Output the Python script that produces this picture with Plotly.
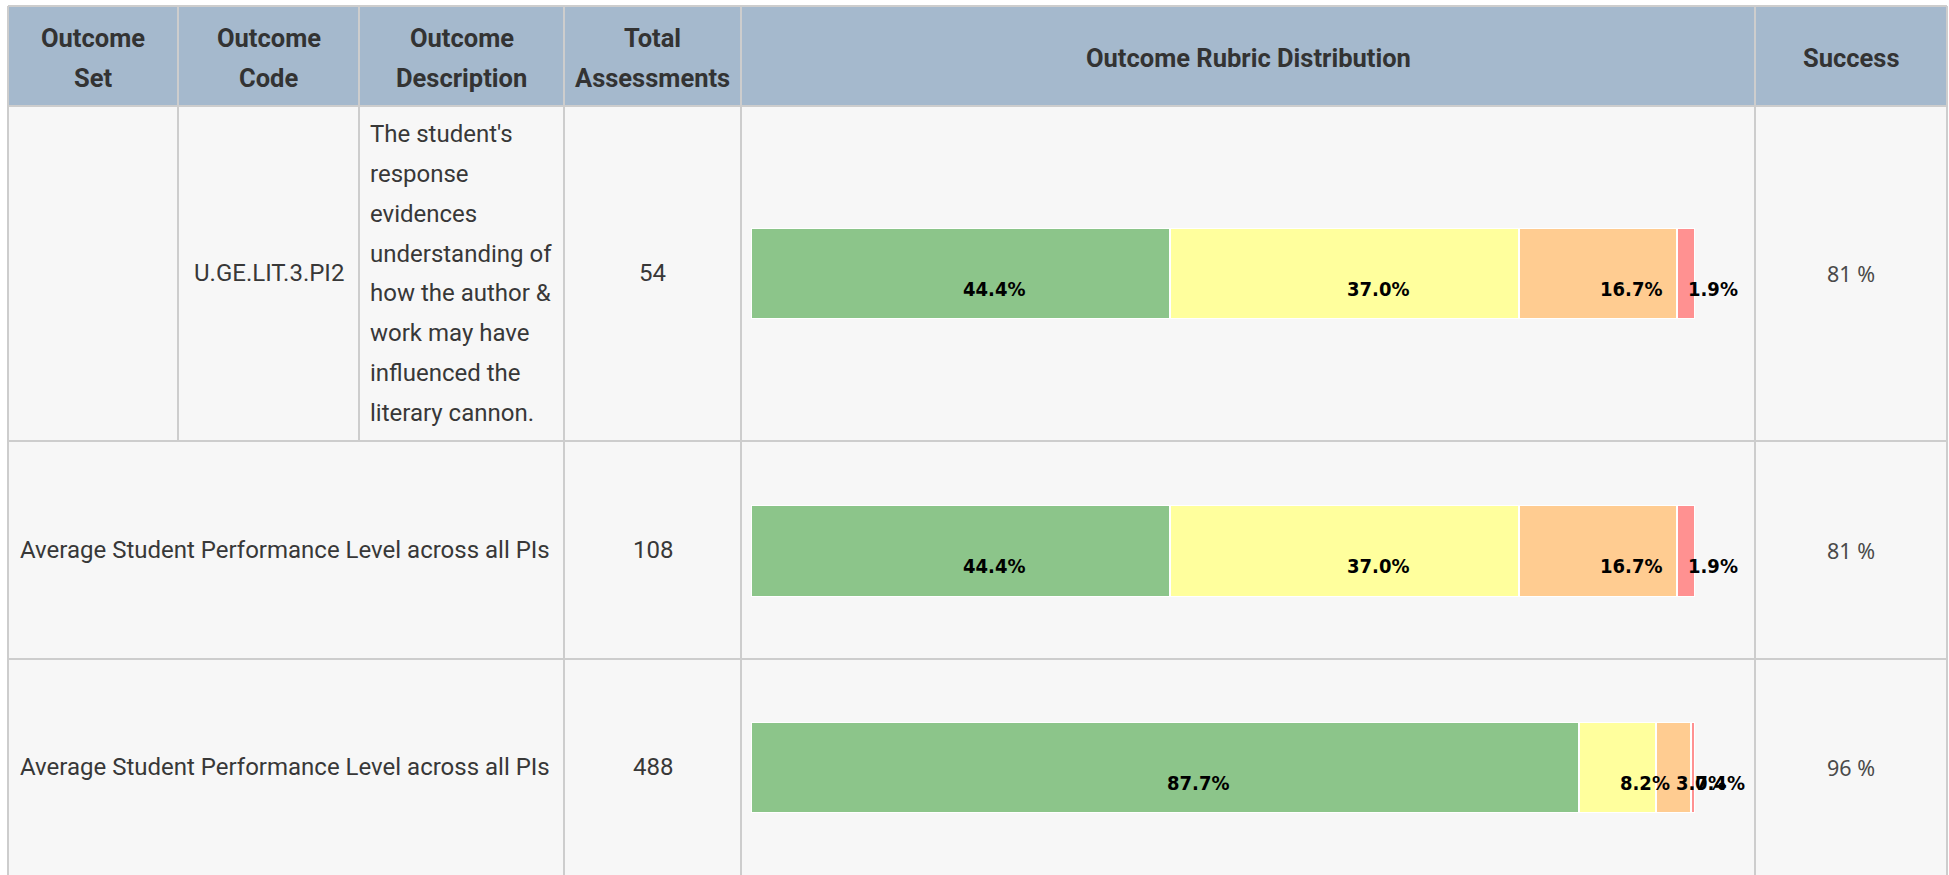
import plotly.graph_objects as go

# ---------------- data ----------------
header_lines = [["Outcome", "Set"], ["Outcome", "Code"], ["Outcome", "Description"],
                ["Total", "Assessments"], ["Outcome Rubric Distribution"], ["Success"]]
outcome_codes = ["U.GE.LIT.3.PI2"]
description_lines = ["The student's", "response", "evidences", "understanding of",
                     "how the author &", "work may have", "influenced the", "literary cannon."]
row_labels = ["", "Average Student Performance Level across all PIs",
              "Average Student Performance Level across all PIs"]
total_assessments = [54, 108, 488]
level_names = ["Level 4", "Level 3", "Level 2", "Level 1"]
level_colors = ["#8CC58A", "#FFFF9D", "#FFCC91", "#FF9191"]
level_4 = [44.4, 44.4, 87.7]
level_3 = [37.0, 37.0, 8.2]
level_2 = [16.7, 16.7, 3.7]
level_1 = [1.9, 1.9, 0.4]
success = [81, 81, 96]

# ---------------- layout constants (pixels) ----------------
W, H = 1949, 875
COL = [8, 178, 359, 564, 741, 1755, 1947]
ROW = [6, 106, 441, 659, 880]
BAR_X = (751, 1695)
BAR_Y = [(228, 319), (505, 597), (722, 813)]
GRID = "#CDCDCD"
HEAD_BG = "#A5B9CD"
BODY_BG = "#F7F7F7"
TXT = "#383838"


def px(x):
    return x / W


def py(y):
    return 1 - y / H


fig = go.Figure()
levels = [level_4, level_3, level_2, level_1]
label_font = dict(family="DejaVu Sans Condensed, DejaVu Sans", size=20, color="black",
                  weight="bold")

for i in range(3):
    ax = "" if i == 0 else str(i + 1)
    for name, vals, col in zip(level_names, levels, level_colors):
        fig.add_trace(go.Bar(
            x=[vals[i]], y=[0], orientation="h", name=name, width=1,
            marker=dict(color=col, line=dict(color="white", width=2)),
            xaxis="x" + ax, yaxis="y" + ax, showlegend=False, hoverinfo="skip"))
    fig.update_layout(**{
        "xaxis" + ax: dict(domain=[px(BAR_X[0]), px(BAR_X[1])], range=[0, 100], visible=False,
                           fixedrange=True, anchor="y" + ax),
        "yaxis" + ax: dict(domain=[py(BAR_Y[i][1]), py(BAR_Y[i][0])], range=[-0.5, 0.5],
                           visible=False, fixedrange=True, anchor="x" + ax),
    })
    # labels: left-aligned at segment centre, a bit below the middle
    start = 0
    for vals in levels:
        v = vals[i]
        fig.add_annotation(x=start + v / 2, y=0, xref="x" + ax, yref="y" + ax,
                           text=f"{v:.1f}%", showarrow=False, xanchor="left", yanchor="middle",
                           yshift=-15, font=label_font)
        start += v

shapes = []
# backgrounds
shapes.append(dict(type="rect", xref="paper", yref="paper", x0=px(COL[0]), x1=px(COL[-1]),
                   y0=py(ROW[1]), y1=py(ROW[0]), fillcolor=HEAD_BG, line_width=0, layer="below"))
shapes.append(dict(type="rect", xref="paper", yref="paper", x0=px(COL[0]), x1=px(COL[-1]),
                   y0=py(ROW[-1]), y1=py(ROW[1]), fillcolor=BODY_BG, line_width=0, layer="below"))


def hline(y, x0, x1):
    shapes.append(dict(type="line", xref="paper", yref="paper", x0=px(x0), x1=px(x1),
                       y0=py(y), y1=py(y), line=dict(color=GRID, width=2), layer="below"))


def vline(x, y0, y1):
    shapes.append(dict(type="line", xref="paper", yref="paper", x0=px(x), x1=px(x),
                       y0=py(y0), y1=py(y1), line=dict(color=GRID, width=2), layer="below"))


for y in ROW[:-1]:
    hline(y, COL[0], COL[-1])
for x in [COL[0], COL[3], COL[4], COL[5], COL[6]]:
    vline(x, ROW[0], ROW[-1])
for x in [COL[1], COL[2]]:
    vline(x, ROW[0], ROW[2])
fig.update_layout(shapes=shapes)


def text(x, y, t, font, xanchor="center"):
    fig.add_annotation(x=px(x), y=py(y), xref="paper", yref="paper", text=t, showarrow=False,
                       xanchor=xanchor, yanchor="middle", font=font)


# header text
head_font = dict(family="Roboto", size=25.5, color="#333333", weight="bold")
centers = [(COL[k] + COL[k + 1]) / 2 for k in range(6)]
for c, lines in zip(centers, header_lines):
    ys = [38, 78] if len(lines) == 2 else [58]
    for t, y in zip(lines, ys):
        text(c, y, t, head_font)

body_font = dict(family="Roboto", size=24, color=TXT)
succ_font = dict(family="Noto Sans", size=21.5, color="#4A4A4A")
row_mid = [273.5, 550, 767]

# row 1 code & description
text(centers[1], row_mid[0], outcome_codes[0], body_font)
line_h = 39.8
n = len(description_lines)
for k, t in enumerate(description_lines):
    y = row_mid[0] + (k - (n - 1) / 2) * line_h
    text(COL[2] + 9, y, t, body_font, xanchor="left")

for i in range(3):
    if row_labels[i]:
        text(COL[0] + 10, row_mid[i], row_labels[i], body_font, xanchor="left")
    text(centers[3], row_mid[i], str(total_assessments[i]), body_font)
    text(centers[5], row_mid[i], f"{success[i]} %", succ_font)

fig.update_layout(width=W, height=H, margin=dict(l=0, r=0, t=0, b=0), barmode="stack",
                  bargap=0, paper_bgcolor="white", plot_bgcolor="rgba(0,0,0,0)",
                  showlegend=False)

fig.write_html("out.html", config={"displayModeBar": False},
               post_script="document.body.style.margin='0';document.body.style.overflow='hidden';")
